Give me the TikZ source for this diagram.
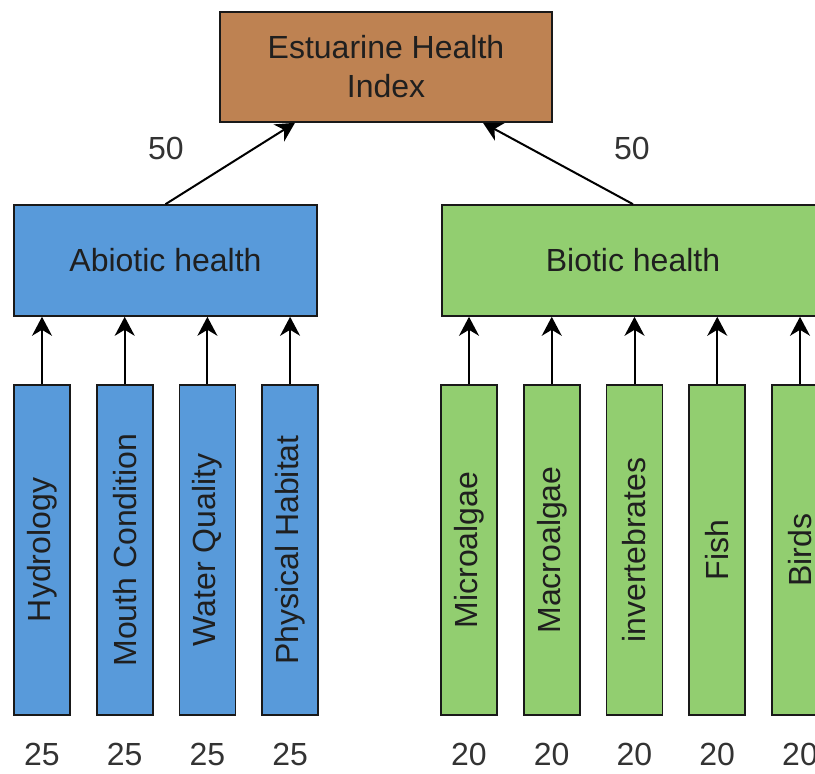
\documentclass[tikz,border=0pt]{standalone}
\usepackage{fontspec}
\setmainfont{Liberation Sans}
\usetikzlibrary{arrows.meta}
\tikzset{
  link/.style={line width=2pt,-{Stealth[length=19pt,width=20pt,inset=6pt]}}
}
\begin{document}
\begin{tikzpicture}[x=1pt,y=1pt,
  box/.style={draw=black!90,line width=1.6pt,align=center,inner sep=0pt,
    font=\fontsize{32}{39}\selectfont,text=black!88},
  leaf/.style={box,minimum width=56pt,minimum height=330pt},
  weight/.style={font=\fontsize{32}{38}\selectfont,text=black!80}]
  % colors
  \definecolor{kBrown}{RGB}{190,130,82}
  \definecolor{kBlue}{RGB}{88,154,218}
  \definecolor{kGreen}{RGB}{146,206,112}
  % page
  \path[use as bounding box,clip] (0,0) rectangle (815,774);
  % index and the two healths
  \node[box,fill=kBrown,minimum width=332pt,minimum height=110pt] (ehi) at (386,707) {Estuarine Health\\Index};
  \node[box,fill=kBlue,minimum width=303pt,minimum height=111pt] (abiotic) at (165.5,513.5) {Abiotic health};
  \node[box,fill=kGreen,minimum width=382pt,minimum height=111pt] (biotic) at (633,513.5) {Biotic health};
  \coordinate (inA) at ([xshift=-91pt]ehi.south);
  \coordinate (inB) at ([xshift=97pt]ehi.south);
  \draw[link] (abiotic.north) -- (inA);
  \draw[link] (biotic.north) -- (inB);
  \node[weight] (wA) at (166,626) {50};
  \node[weight] (wB) at (632,626) {50};
  % abiotic indicators
  \foreach \i/\name in {1/Hydrology,2/Mouth Condition,3/Water Quality,4/Physical Habitat}{
    \node[leaf,fill=kBlue] (a\i) at ({42+82.7*(\i-1)},224) {\rotatebox{90}{\name}};
    \draw[link] (a\i.north) -- (a\i.north |- abiotic.south);
    \node[weight] (wa\i) at (a\i |- 0,20) {25};
  }
  % biotic indicators
  \foreach \i/\name in {1/Microalgae,2/Macroalgae,3/invertebrates,4/Fish,5/Birds}{
    \node[leaf,fill=kGreen] (b\i) at ({469+82.75*(\i-1)},224) {\rotatebox{90}{\name}};
    \draw[link] (b\i.north) -- (b\i.north |- biotic.south);
    \node[weight] (wb\i) at (b\i |- 0,20) {20};
  }
\end{tikzpicture}
\end{document}
